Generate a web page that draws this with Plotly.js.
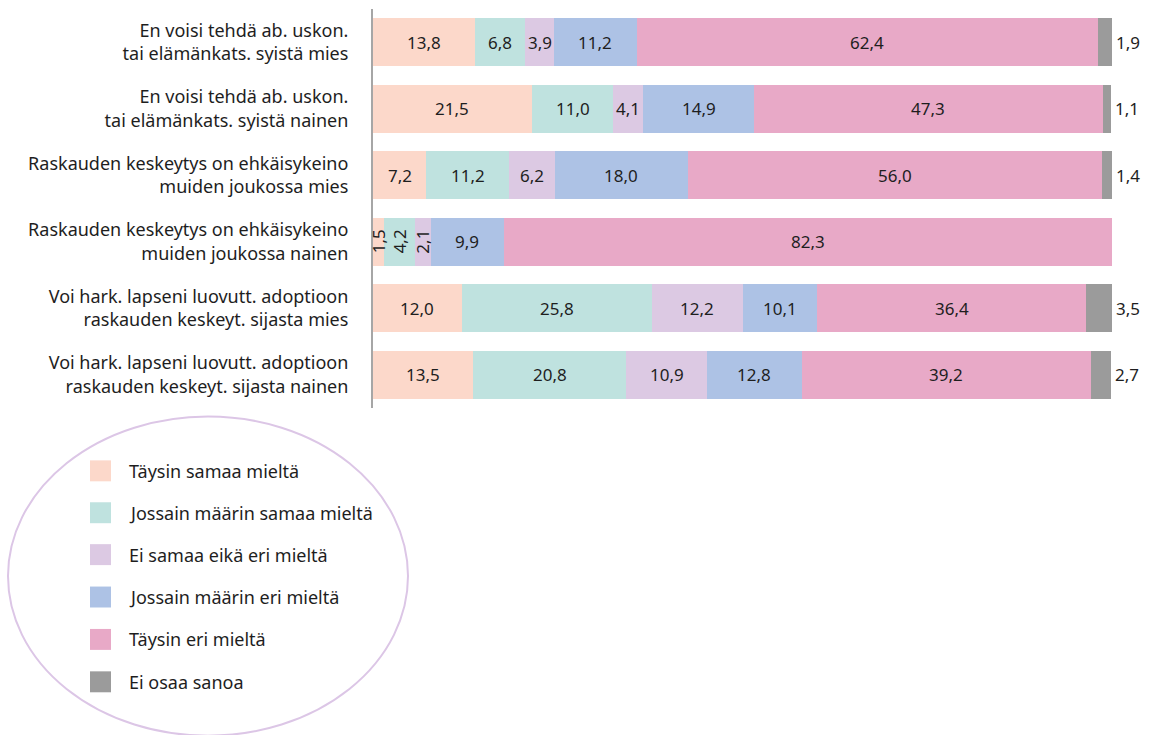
<!DOCTYPE html>
<html>
<head>
<meta charset="utf-8">
<script src="https://cdn.plot.ly/plotly-3.0.1.min.js"></script>
<style>html,body{margin:0;padding:0;background:#fff;}#chart{width:1155px;height:735px;}</style>
</head>
<body>
<div id="chart"></div>
<script>
const categories = [
  "En voisi tehdä ab. uskon.<br>tai elämänkats. syistä mies",
  "En voisi tehdä ab. uskon.<br>tai elämänkats. syistä nainen",
  "Raskauden keskeytys on ehkäisykeino<br>muiden joukossa mies",
  "Raskauden keskeytys on ehkäisykeino<br>muiden joukossa nainen",
  "Voi hark. lapseni luovutt. adoptioon<br>raskauden keskeyt. sijasta mies",
  "Voi hark. lapseni luovutt. adoptioon<br>raskauden keskeyt. sijasta nainen"
];
const seriesNames = ["Täysin samaa mieltä","Jossain määrin samaa mieltä","Ei samaa eikä eri mieltä","Jossain määrin eri mieltä","Täysin eri mieltä","Ei osaa sanoa"];
const taysinSamaa = [13.8, 21.5, 7.2, 1.5, 12.0, 13.5];
const jossainSamaa = [6.8, 11.0, 11.2, 4.2, 25.8, 20.8];
const eiSamaaEikaEri = [3.9, 4.1, 6.2, 2.1, 12.2, 10.9];
const jossainEri = [11.2, 14.9, 18.0, 9.9, 10.1, 12.8];
const taysinEri = [62.4, 47.3, 56.0, 82.3, 36.4, 39.2];
const eiOsaa = [1.9, 1.1, 1.4, null, 3.5, 2.7];
const series = [taysinSamaa, jossainSamaa, eiSamaaEikaEri, jossainEri, taysinEri, eiOsaa];
const colors = ["#FCD8CA", "#BFE2DF", "#DCC9E3", "#ADC2E5", "#E8A9C7", "#9B9B9B"];

const FONT = "Noto Sans, sans-serif";
const TXT = '#1e1e1e';
const fmt = v => v.toFixed(1).replace('.', ',');

const traces = series.map((vals, i) => ({
  type: 'bar', orientation: 'h', name: seriesNames[i],
  y: categories, x: vals,
  marker: {color: colors[i], line: {width: 0}},
  hoverinfo: 'none', showlegend: false
}));

// labels
const annotations = [];
const inner = series.slice(0, series.length - 1);
categories.forEach((cat, r) => {
  let cum = 0;
  const crowded = inner.some(s => s[r] != null && s[r] < 2);
  series.forEach((vals, i) => {
    const v = vals[r];
    if (v == null) return;
    const mid = cum + v / 2;
    cum += v;
    if (i === series.length - 1) {
      annotations.push({x: cum, y: cat, xref: 'x', yref: 'y', text: fmt(v), showarrow: false,
        xanchor: 'left', xshift: 2, font: {family: FONT, size: 17, color: TXT}});
    } else {
      const rotate = crowded && v < 5;
      annotations.push({x: mid, y: cat, xref: 'x', yref: 'y', text: fmt(v), showarrow: false,
        textangle: rotate ? -90 : 0, font: {family: FONT, size: 17, color: TXT}});
    }
  });
});

// custom legend in ellipse (pixel -> paper conversion)
const L = 373, R = 1112, T = 8.5, B = 408.5;
const px = x => (x - L) / (R - L);
const py = y => (B - y) / (B - T);
const shapes = [{type: 'circle', xref: 'paper', yref: 'paper',
  x0: px(8), x1: px(408), y0: py(737), y1: py(417),
  line: {color: '#DCC6E6', width: 2}, fillcolor: 'rgba(0,0,0,0)'}];
const legendCenters = [471.5, 513.5, 555.5, 598, 640.5, 683];
seriesNames.forEach((n, i) => {
  const c = legendCenters[i];
  shapes.push({type: 'rect', xref: 'paper', yref: 'paper', x0: px(90), x1: px(111),
    y0: py(c + 10.5), y1: py(c - 10.5), fillcolor: colors[i], line: {width: 0}});
  annotations.push({xref: 'paper', yref: 'paper', x: px(129), y: py(c), text: n, showarrow: false,
    xanchor: 'left', yanchor: 'middle', xshift: -2, font: {family: FONT, size: 18, color: TXT}});
});

const layout = {
  width: 1155, height: 735,
  margin: {l: L, r: 1155 - R, t: T, b: 735 - B, pad: 0},
  barmode: 'stack', bargap: 0.28,
  paper_bgcolor: '#fff', plot_bgcolor: '#fff',
  xaxis: {range: [0, 100], visible: false, fixedrange: true},
  yaxis: {autorange: 'reversed', showline: true, linecolor: '#A6A6A6', linewidth: 2,
    showgrid: false, zeroline: false, ticks: '', ticklabelstandoff: 19,
    tickfont: {family: FONT, size: 18, color: TXT}},
  font: {family: FONT},
  annotations: annotations, shapes: shapes, showlegend: false
};
Plotly.newPlot('chart', traces, layout, {displayModeBar: false, staticPlot: true});
</script>
</body>
</html>
